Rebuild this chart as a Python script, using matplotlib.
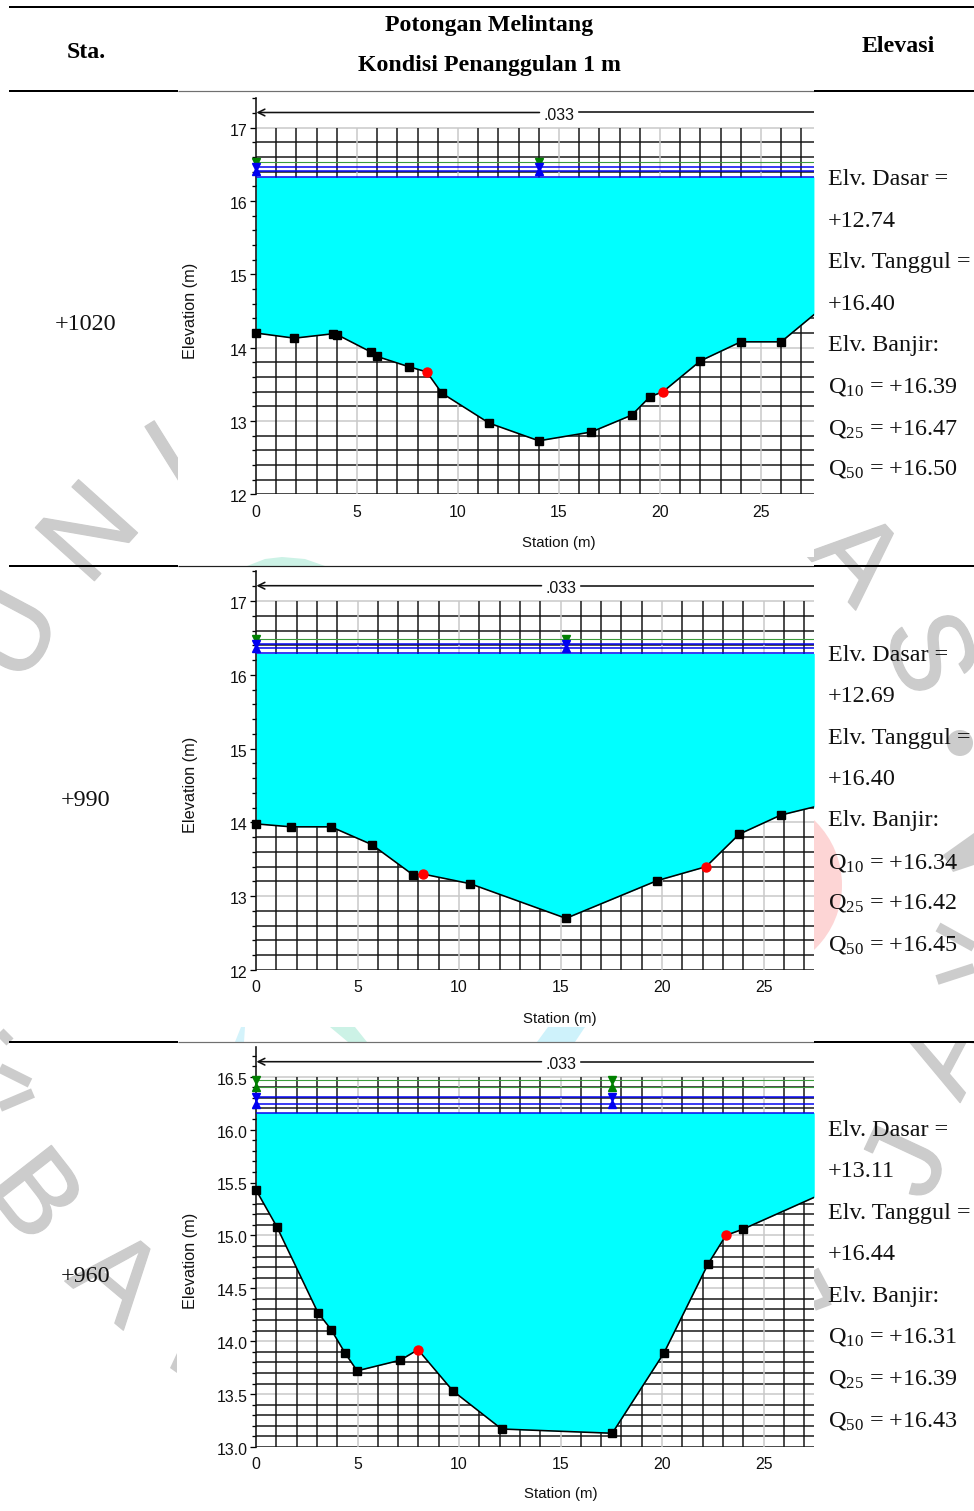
import numpy as np
import matplotlib
matplotlib.use('Agg')
import matplotlib.pyplot as plt
import matplotlib.patheffects as pe
from matplotlib.patches import Rectangle, Circle, Polygon
from matplotlib.ticker import MultipleLocator, FormatStrFormatter
from matplotlib.transforms import ScaledTranslation

plt.rcParams['mathtext.fontset'] = 'custom'
plt.rcParams['mathtext.rm'] = 'Liberation Serif'
plt.rcParams['mathtext.default'] = 'rm'

# ---------- data ----------
sta_labels = ['+1020', '+990', '+960']

station_1 = [0, 1.9, 3.8, 4.0, 5.7, 6.0, 7.57, 8.45, 9.2, 11.55, 14.0, 16.6, 18.6, 19.5, 20.15, 22.0, 24.0, 26.0, 27.62]
elev_1 = [14.20, 14.13, 14.19, 14.18, 13.94, 13.88, 13.74, 13.67, 13.38, 12.97, 12.73, 12.85, 13.08, 13.33, 13.40, 13.82, 14.08, 14.08, 14.45]
bank_1 = [8.45, 20.15]
bank_elev_1 = [13.67, 13.40]
levels_1 = [16.53, 16.46, 16.41, 16.33]
green_1 = [16.53]
marker_sta_1 = [0, 14.0]

station_2 = [0, 1.72, 3.7, 5.7, 7.73, 8.23, 10.54, 15.27, 19.75, 22.17, 23.8, 25.86, 27.5]
elev_2 = [13.98, 13.94, 13.94, 13.70, 13.29, 13.30, 13.17, 12.70, 13.21, 13.40, 13.84, 14.10, 14.21]
bank_2 = [8.23, 22.17]
bank_elev_2 = [13.30, 13.40]
levels_2 = [16.49, 16.42, 16.36, 16.29]
green_2 = [16.49]
marker_sta_2 = [0, 15.27]

station_3 = [0, 1.03, 3.05, 3.7, 4.38, 4.98, 7.1, 7.98, 9.7, 12.1, 17.55, 20.1, 22.27, 23.15, 24.0, 27.5]
elev_3 = [15.43, 15.08, 14.27, 14.11, 13.89, 13.72, 13.82, 13.92, 13.53, 13.17, 13.13, 13.89, 14.73, 15.0, 15.06, 15.36]
bank_3 = [7.98, 23.15]
bank_elev_3 = [13.92, 15.0]
levels_3 = [16.465, 16.40, 16.31, 16.24, 16.16]
green_3 = [16.465, 16.40]
marker_sta_3 = [0, 17.55]

notes_1 = ['Elv. Dasar =', '+12.74', 'Elv. Tanggul =', '+16.40', 'Elv. Banjir:',
           r'Q$_{10}$ = +16.39', r'Q$_{25}$ = +16.47', r'Q$_{50}$ = +16.50']
notes_2 = ['Elv. Dasar =', '+12.69', 'Elv. Tanggul =', '+16.40', 'Elv. Banjir:',
           r'Q$_{10}$ = +16.34', r'Q$_{25}$ = +16.42', r'Q$_{50}$ = +16.45']
notes_3 = ['Elv. Dasar =', '+13.11', 'Elv. Tanggul =', '+16.44', 'Elv. Banjir:',
           r'Q$_{10}$ = +16.31', r'Q$_{25}$ = +16.39', r'Q$_{50}$ = +16.43']
note_y_1 = [178, 220, 261, 303, 344, 385, 427, 468]
note_y_2 = [654, 695, 737, 778, 819, 861, 902, 943]
note_y_3 = [1129, 1170, 1212, 1253, 1295, 1336, 1378, 1419]

W, H = 974, 1511
SERIF = 'Liberation Serif'
SANS = 'Liberation Sans'
fig = plt.figure(figsize=(W / 100, H / 100), dpi=100, facecolor='white')
bg = fig.add_axes([0, 0, 1, 1], zorder=0)
bg.set_xlim(0, W)
bg.set_ylim(H, 0)
bg.axis('off')
pw = 0.72  # points per pixel

# ---------- watermark ----------
WM = '#cccccc'
bg.add_patch(Circle((752.6, 885), 89.4, fc='#fdd5d5', ec='none', zorder=1))
bg.add_patch(Circle((960, 743), 13, fc=WM, ec='none', zorder=1))
for poly, col in [([(247, 566), (265, 559), (282, 557), (305, 559), (325, 566)], '#ccf2e6'),
                  ([(235, 1042), (241, 1027), (245, 1027), (244, 1042)], '#d4f3fb'),
                  ([(330, 1027), (355, 1027), (367, 1042), (348, 1042)], '#ccf2e6'),
                  ([(537, 1042), (548, 1027), (585, 1027), (575, 1042)], '#cef2fb'),
                  ([(177, 1353), (170, 1368), (177, 1373)], WM),
                  ([(943, 855), (974, 833), (974, 865), (953, 872)], WM)]:
    bg.add_patch(Polygon(poly, fc=col, ec='none', zorder=1))
for seg in [[(33, 1093), (0, 1107)], [(30, 1083), (0, 1068)], [(0, 1032), (10, 1042)],
            [(937, 980), (974, 968)], [(938, 927), (974, 947)],
            [(814, 1270), (830, 1300)], [(830, 1300), (814, 1306)]]:
    xs, ys = zip(*seg)
    bg.plot(xs, ys, color=WM, lw=10 * pw, solid_capstyle='butt', zorder=1)
for ch, cx, cy, rot in [('U', 18, 637, 62), ('N', 94, 537, 48), ('I', 176, 466, 32),
                        ('A', 852, 562, -48), ('S', 923, 655, -70),
                        ('B', 30, 1199, -52), ('A', 113, 1283, -40),
                        ('A', 952, 1055, 62), ('J', 912, 1165, 65)]:
    t = bg.text(cx, cy, ch, fontsize=83, family=SANS, color=WM, ha='center', va='center',
                rotation=rot, rotation_mode='anchor', zorder=1)
    t.set_path_effects([pe.withStroke(linewidth=1.0, foreground=WM)])

# white plates of the pasted plots
for top, bottom in [(91, 557), (567, 1027), (1042, 1505)]:
    bg.add_patch(Rectangle((178, top), 636, bottom - top, fc='white', ec='none', zorder=2))
bg.add_patch(Rectangle((814, 1000), 160, 42, fc='white', ec='none', zorder=2))

# ---------- table rules ----------
bg.plot([9, 974], [7, 7], color='black', lw=2 * pw, zorder=3, solid_capstyle='butt')
for y, col in [(91, '#707070'), (566, '#202020'), (1042, '#707070')]:
    bg.plot([9, 178], [y, y], color='black', lw=2 * pw, zorder=3, solid_capstyle='butt')
    bg.plot([178, 814], [y, y], color=col, lw=1.2 * pw, zorder=3, solid_capstyle='butt')
    bg.plot([814, 974], [y, y], color='black', lw=2 * pw, zorder=3, solid_capstyle='butt')

# ---------- table text ----------
FS = 17.4
for s, x, y in [('Sta.', 86, 52), ('Potongan Melintang', 489, 25),
                ('Kondisi Penanggulan 1 m', 489, 66), ('Elevasi', 898, 46)]:
    bg.text(x, y, s, family=SERIF, fontsize=17.2, fontweight='bold', ha='center', va='center', zorder=4)
for s, y in zip(sta_labels, [324, 800, 1276]):
    bg.text(86, y, s, family=SERIF, fontsize=FS, ha='center', va='center', color='#111111', zorder=4)
for notes, ys in [(notes_1, note_y_1), (notes_2, note_y_2), (notes_3, note_y_3)]:
    for s, y in zip(notes, ys):
        bg.text(828, y + 7, s, family=SERIF, fontsize=FS, ha='left', va='baseline', color='#111111', zorder=4)


# ---------- plots ----------
def panel(px_top, px_y0, px_per_unit, y0, major, minor, xscale, sta, elev, bank, bank_elev,
          levels, green, marker_sta, fmt, xlab, ylab, txt_x):
    ytop = y0 + (px_y0 - px_top) / px_per_unit
    grid_top = y0 + round((px_y0 - (px_top + 30)) / px_per_unit / major) * major
    ax = fig.add_axes([256 / W, 1 - px_y0 / H, 558 / W, (px_y0 - px_top) / H], zorder=1)
    ax.patch.set_alpha(0)
    xmax = 558 / xscale
    ax.set_xlim(0, xmax)
    ax.set_ylim(y0, ytop)
    for s in ['top', 'right', 'bottom']:
        ax.spines[s].set_visible(False)
    ax.spines['left'].set_linewidth(1.6 * pw)
    ax.spines['left'].set_color('#111111')
    ax.set_axisbelow(True)

    lw = 1.5 * pw
    n = int(round((grid_top - y0) / minor))
    for i in range(n + 1):
        yv = y0 + i * minor
        is_major = i > 0 and abs(yv / major - round(yv / major)) < 1e-6
        ax.plot([0, xmax], [yv, yv], color='#c8c8c8' if is_major else '#141414', lw=lw, zorder=1,
                solid_capstyle='butt')
    for xv in range(1, int(xmax) + 1):
        ax.plot([xv, xv], [y0, grid_top], color='#c8c8c8' if xv % 5 == 0 else '#141414', lw=lw, zorder=1,
                solid_capstyle='butt')

    # water
    sta = np.array(sta)
    elev = np.array(elev)
    water = levels[-1]
    ax.fill_between(sta, elev, water, color='#00ffff', lw=0, zorder=2)
    for lv in levels:
        if lv in green:
            ax.plot([0, xmax], [lv, lv], color='#3c9c3c', lw=1.1 * pw, zorder=3)
        else:
            ax.plot([0, xmax], [lv, lv], color='#0000f0', lw=1.5 * pw, zorder=3)
    # ground
    ax.plot(sta, elev, color='black', lw=1.6 * pw, zorder=4, clip_on=True)
    plain = ~np.isin(sta, bank)
    plain[-1] = False
    ax.plot(sta[plain], elev[plain], ls='none', marker='s', ms=7.5 * pw, color='black', zorder=5, clip_on=False)
    ax.plot(bank, bank_elev, ls='none', marker='o', ms=9 * pw, color='#ff0000', zorder=6, clip_on=False)

    # water-surface symbols
    mlv = levels[:-1]
    for i, lv in enumerate(mlv):
        col = '#008000' if lv in green else '#0000f0'
        if lv in green:
            mk = 'v' if (i == 0) else '^'
        else:
            mk = 'v' if (i == 0 or mlv[i - 1] in green) else '^'
        ax.plot(marker_sta, [lv] * len(marker_sta), ls='none', marker=mk, ms=8 * pw, color=col,
                zorder=7, clip_on=False)

    # Manning label
    yl = y0 + (px_y0 - (px_top + 15)) / px_per_unit
    left_end = (txt_x - 19.5 - 256) / xscale
    right_start = (txt_x + 19.5 - 256) / xscale
    ax.annotate('', xy=(0.02, yl), xytext=(left_end, yl),
                arrowprops=dict(arrowstyle='->', lw=1.6 * pw, color='#111111', shrinkA=0, shrinkB=0,
                                mutation_scale=12), zorder=3)
    ax.plot([right_start, xmax], [yl, yl], color='#111111', lw=1.6 * pw, zorder=3)
    bg.text(txt_x, px_top + 18, '.033', family=SANS, fontsize=11.4, ha='center', va='center',
            color='#111111', zorder=4)

    # axes
    ax.xaxis.set_major_locator(MultipleLocator(5))
    ax.yaxis.set_major_locator(MultipleLocator(major))
    ax.yaxis.set_minor_locator(MultipleLocator(minor))
    ax.yaxis.set_major_formatter(FormatStrFormatter(fmt))
    ax.tick_params(axis='x', length=0, pad=7.5, labelsize=11.4, labelfontfamily=SANS, labelcolor='#111111')
    ax.tick_params(axis='y', which='major', length=6.5 * pw, width=1.3 * pw, pad=1.2, labelsize=11.4,
                   labelfontfamily=SANS, labelcolor='#111111')
    ax.tick_params(axis='y', which='minor', length=4.3 * pw, width=1.3 * pw)
    off = ScaledTranslation(0, -2 / 100, fig.dpi_scale_trans)
    for lab in ax.get_yticklabels():
        lab.set_transform(lab.get_transform() + off)

    ax.set_xlabel('Station (m)', family=SANS, fontsize=10.8, color='#111111')
    ax.set_ylabel('Elevation (m)', family=SANS, fontsize=11.7, color='#111111')
    ax.xaxis.set_label_coords(xlab[0], xlab[1], transform=bg.transData)
    ax.yaxis.set_label_coords(ylab[0], ylab[1], transform=bg.transData)
    ax.xaxis.label.set_va('center')
    ax.yaxis.label.set_va('center')
    return ax


panel(97.5, 494.3, 73.3, 12, 1, 0.2, 20.2, station_1, elev_1, bank_1, bank_elev_1, levels_1, green_1,
      marker_sta_1, '%d', (559, 543), (190, 311), 559)
panel(570.7, 970, 73.8, 12, 1, 0.2, 20.3, station_2, elev_2, bank_2, bank_elev_2, levels_2, green_2,
      marker_sta_2, '%d', (560, 1019), (190, 785), 561)
panel(1046.7, 1447, 105.8, 13, 0.5, 0.1, 20.3, station_3, elev_3, bank_3, bank_elev_3, levels_3, green_3,
      marker_sta_3, '%.1f', (561, 1494), (190, 1261), 561)

fig.savefig('out.png', dpi=100, facecolor='white')
